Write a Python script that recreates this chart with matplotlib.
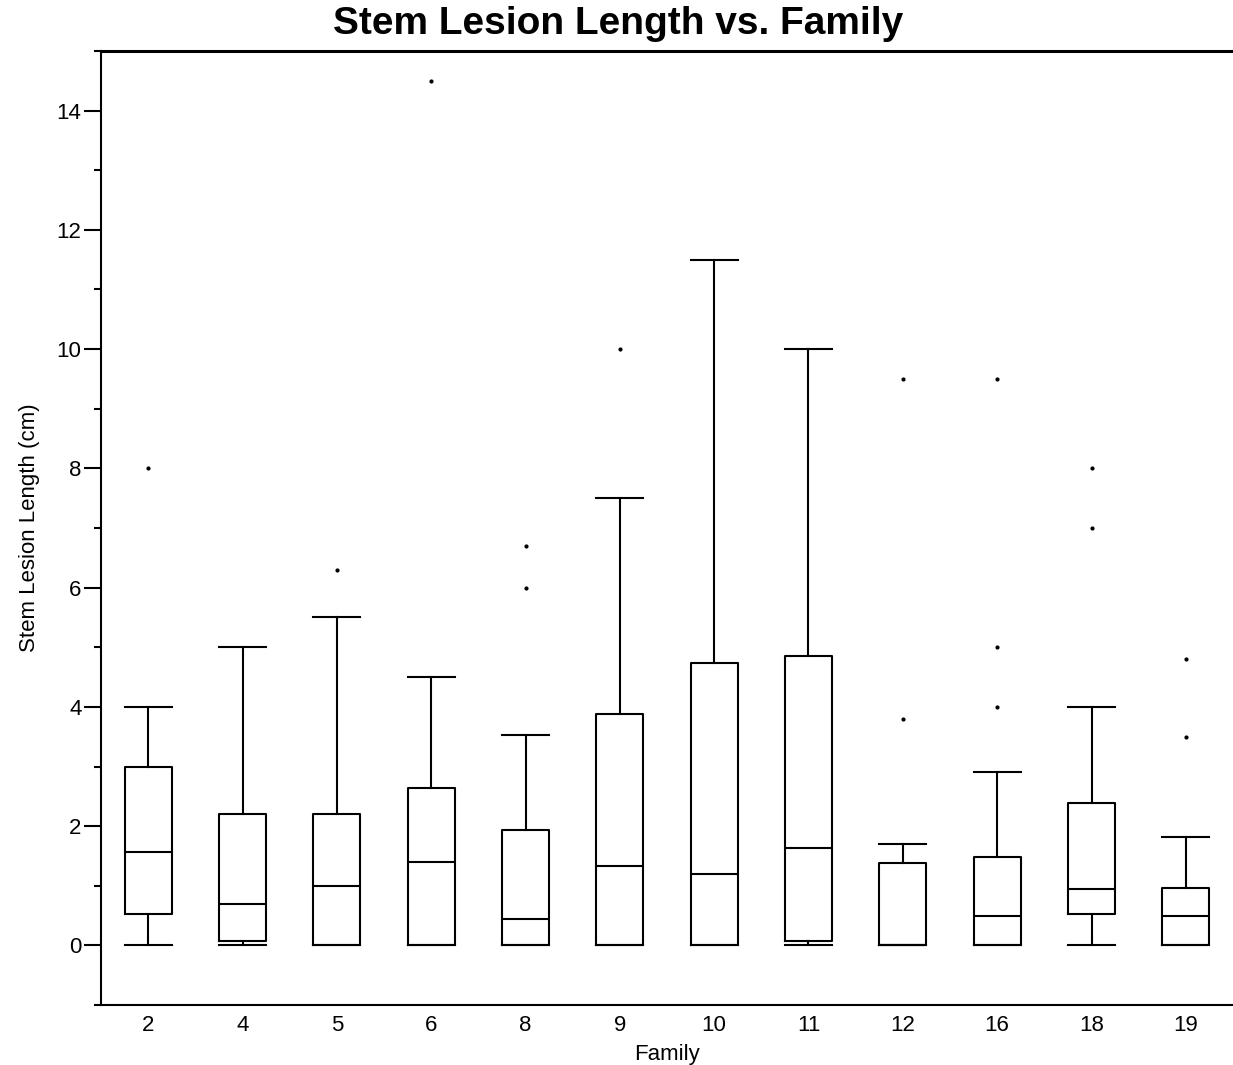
import matplotlib
matplotlib.use('Agg')
import matplotlib.pyplot as plt

plt.rcParams['font.family'] = ['Liberation Sans', 'DejaVu Sans']

families = ['2', '4', '5', '6', '8', '9', '10', '11', '12', '16', '18', '19']
whisker_lo = [0, 0, 0, 0, 0, 0, 0, 0, 0, 0, 0, 0]
q1 = [0.52, 0.08, 0, 0, 0, 0, 0, 0.08, 0, 0, 0.52, 0]
medians = [1.56, 0.69, 0.99, 1.39, 0.45, 1.33, 1.19, 1.63, 0, 0.5, 0.95, 0.5]
q3 = [3.0, 2.2, 2.2, 2.64, 1.93, 3.88, 4.73, 4.85, 1.38, 1.49, 2.38, 0.97]
whisker_hi = [4.0, 5.0, 5.5, 4.5, 3.52, 7.5, 11.5, 10.0, 1.7, 2.9, 4.0, 1.81]
outliers = [[8.0], [], [6.3], [14.5], [6.7, 6.0], [10.0], [], [], [3.8, 9.5],
            [5.0, 4.0, 9.5], [7.0, 8.0], [4.8, 3.5]]

stats = []
for i in range(len(families)):
    stats.append({'label': families[i], 'whislo': whisker_lo[i], 'q1': q1[i],
                  'med': medians[i], 'q3': q3[i], 'whishi': whisker_hi[i],
                  'fliers': outliers[i]})

fig = plt.figure(figsize=(12.33, 10.65), dpi=100)
ax = fig.add_axes([101/1233, 60/1065, 1132/1233, 954/1065])

pos = list(range(len(families)))
ax.bxp(stats, positions=pos, widths=0.5, capwidths=0.5,
       boxprops=dict(color='black', linewidth=1.5),
       medianprops=dict(color='black', linewidth=1.5),
       whiskerprops=dict(color='black', linewidth=1.5),
       capprops=dict(color='black', linewidth=1.5),
       flierprops=dict(marker='o', markersize=2, markerfacecolor='black',
                       markeredgecolor='black'))

ax.set_xlim(-0.5, 11.5)
ax.set_ylim(-1, 15)
ax.set_yticks([0, 2, 4, 6, 8, 10, 12, 14])
ax.set_yticks(range(-1, 16), minor=True)
ax.set_xticks(pos)
ax.set_xticklabels(families)
ax.tick_params(axis='y', which='major', length=12, width=1.5, labelsize=16, direction='out', pad=2)
ax.tick_params(axis='y', which='minor', length=5, width=1.5, direction='out')
ax.tick_params(axis='x', length=0, labelsize=16, pad=7)

ax.spines['right'].set_visible(False)
ax.spines['top'].set_linewidth(2.2)
ax.spines['left'].set_linewidth(1.5)
ax.spines['bottom'].set_linewidth(1.5)

ax.set_xlabel('Family', fontsize=16, labelpad=6)
ax.set_ylabel('Stem Lesion Length (cm)', fontsize=16, labelpad=12)
fig.text(618/1233, 1 - 24/1065, 'Stem Lesion Length vs. Family', ha='center', va='center',
         fontsize=28, fontweight='bold')

plt.savefig('out.png', dpi=100)
